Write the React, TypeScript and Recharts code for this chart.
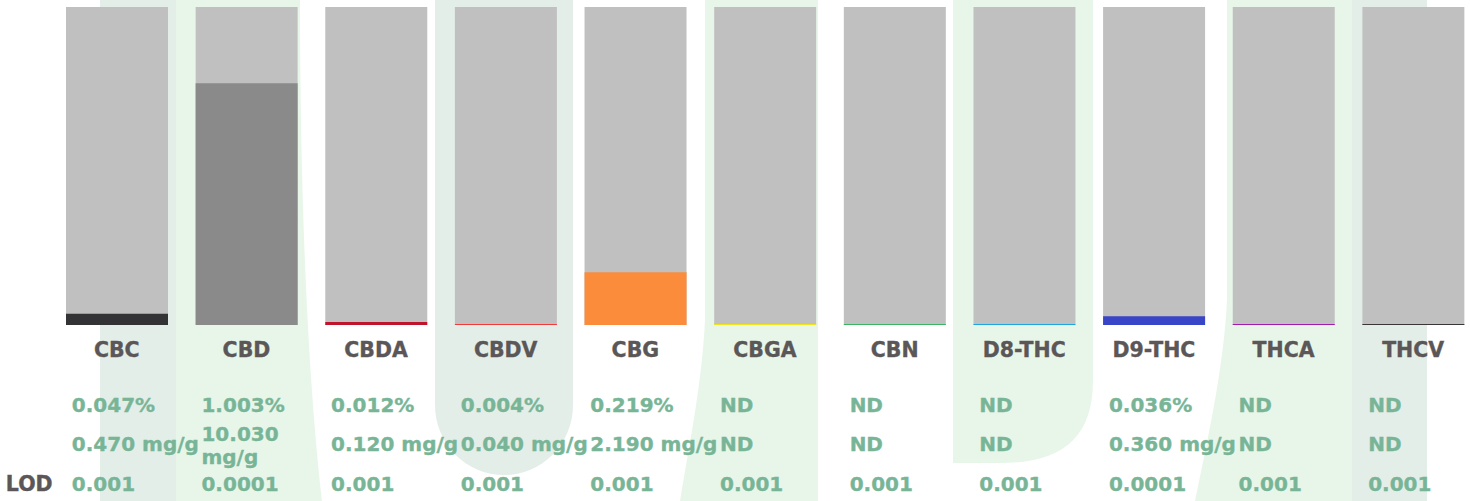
import React from "react";
import { BarChart, Bar, XAxis, YAxis, Cell } from "recharts";

// cannabinoid profile, values in % (null = not detected)
const cannabinoids = ["CBC", "CBD", "CBDA", "CBDV", "CBG", "CBGA", "CBN", "D8-THC", "D9-THC", "THCA", "THCV"];
const percent: (number | null)[] = [0.047, 1.003, 0.012, 0.004, 0.219, null, null, null, 0.036, null, null];
const mgPerG: (number | null)[] = [0.47, 10.03, 0.12, 0.04, 2.19, null, null, null, 0.36, null, null];
const lod = ["0.001", "0.0001", "0.001", "0.001", "0.001", "0.001", "0.001", "0.001", "0.0001", "0.001", "0.001"];
const barColors = ["#333335", "#898a89", "#c0142c", "#f23a3a", "#fb8c3c", "#f2e21a", "#3cb464", "#1fa6e0", "#3845c6", "#a21ab0", "#3a3637"];
const scaleMax = 1.32;

const data = cannabinoids.map((name, i) => ({
  name,
  value: percent[i] ?? 0,
  pct: percent[i] == null ? "ND" : percent[i]!.toFixed(3) + "%",
  mg: mgPerG[i] == null ? "ND" : mgPerG[i]!.toFixed(3) + " mg/g",
  lod: lod[i],
}));

const FONT = "'DejaVu Sans', Verdana, sans-serif";
const GREEN = "#78b597";
const DARK = "#5b5657";

function ColumnTick(props: any) {
  const { x, y, index } = props;
  const d = data[index];
  const left = x - 45;
  const mgLines = d.mg.length > 10 ? d.mg.split(" ") : [d.mg];
  const green = { fill: GREEN, stroke: GREEN, strokeWidth: 0.35, fontSize: 20 };
  return (
    <g fontFamily={FONT} fontWeight="bold">
      <text x={x} y={y + 32} textAnchor="middle" fill={DARK} stroke={DARK} strokeWidth={0.35} fontSize={20.5}>
        {d.name}
      </text>
      <text x={left} y={y + 87} {...green}>
        {d.pct}
      </text>
      {mgLines.length === 1 ? (
        <text x={left} y={y + 126} {...green}>
          {d.mg}
        </text>
      ) : (
        <text x={left} y={y + 116} {...green}>
          <tspan x={left}>{mgLines[0]}</tspan>
          <tspan x={left} dy={23}>{mgLines[1]}</tspan>
        </text>
      )}
      <text x={left} y={y + 166} {...green}>
        {d.lod}
      </text>
      {index === 0 && (
        <text x={x - 111} y={y + 166} fill={DARK} stroke={DARK} strokeWidth={0.4} fontSize={20.5}>
          LOD
        </text>
      )}
    </g>
  );
}

function Watermark() {
  return (
    <svg width={1470} height={501} style={{ position: "absolute", left: 0, top: 0 }}>
      <rect x={100} y={0} width={76} height={501} fill="#e3eee8" />
      <path d="M176,0 H300 C300,200 308,380 322,501 H176 Z" fill="#e8f6ea" />
      <path d="M435,0 H573 V405 A69,70 0 0 1 435,405 Z" fill="#e3eee8" />
      <path d="M705,0 H818 V501 H680 C692,430 702,380 705,320 Z" fill="#e8f6ea" />
      <path d="M953,0 H1093 V380 C1093,440 1060,463 1000,463 H953 Z" fill="#e8f6ea" />
      <path d="M1227,0 H1352 V501 H1195 C1212,420 1224,360 1227,300 Z" fill="#e8f6ea" />
      <rect x={1352} y={0} width={75} height={501} fill="#e3eee8" />
    </svg>
  );
}

export default function App() {
  return (
    <div style={{ position: "absolute", left: 0, top: 0, width: 1470, height: 501, overflow: "hidden", background: "#fff" }}>
      <Watermark />
      <div style={{ position: "absolute", left: 0, top: 0 }}>
        <BarChart width={1480} height={501} data={data} margin={{ top: 7, right: 2, left: 52, bottom: 0 }}>
          <XAxis
            dataKey="name"
            height={176}
            axisLine={false}
            tickLine={false}
            tickSize={0}
            tickMargin={0}
            interval={0}
            tick={<ColumnTick />}
          />
          <YAxis hide domain={[0, scaleMax]} />
          <Bar
            dataKey="value"
            barSize={102}
            minPointSize={1}
            background={{ fill: "#c0c0c0" }}
            isAnimationActive={false}
          >
            {data.map((d, i) => (
              <Cell key={d.name} fill={barColors[i]} />
            ))}
          </Bar>
        </BarChart>
      </div>
    </div>
  );
}
